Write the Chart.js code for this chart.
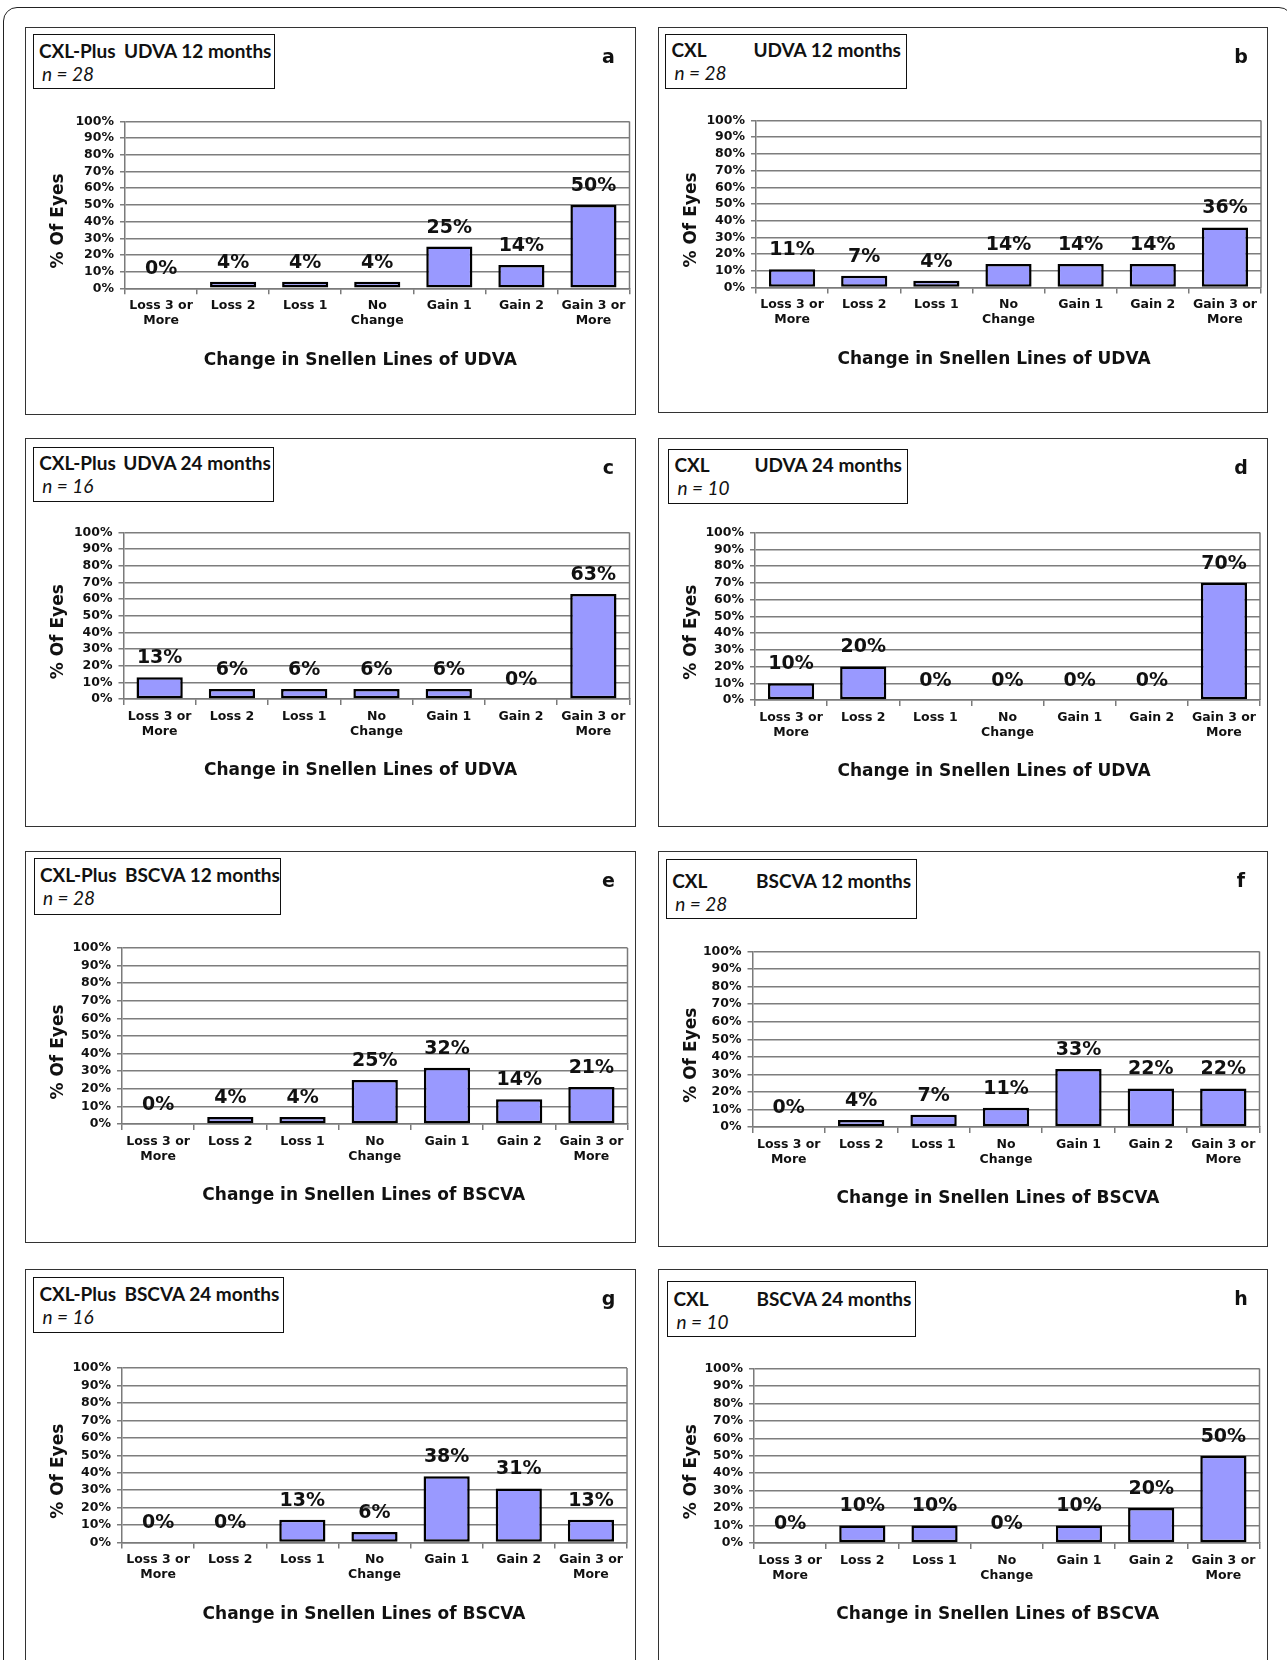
<!DOCTYPE html>
<html>
<head>
<meta charset="utf-8">
<title>Change in Snellen Lines – CXL-Plus vs CXL</title>
<script src="https://cdn.jsdelivr.net/npm/chart.js@4.4.1/dist/chart.umd.min.js"></script>
<style>
  html, body { margin: 0; padding: 0; background: #fff; }
  body { width: 1287px; height: 1660px; position: relative; overflow: hidden; }
  .frame { position: absolute; left: 3px; top: 7px; width: 1290px; height: 1700px;
           border: 1.5px solid #222; border-radius: 14px; box-sizing: border-box; }
  .panel { position: absolute; }
  .panel canvas { position: absolute; left: 0; top: 0; }
  .pborder { position: absolute; left: 0; top: 0; right: 0; bottom: 0;
             border: 1.6px solid #333; box-sizing: border-box; pointer-events: none; }
  .tbox { position: absolute; border: 1.6px solid #111; box-sizing: border-box; background: #fff;
          font-family: Lato, "Open Sans", sans-serif; color: #111; }
  .tline { position: absolute; white-space: pre; font-size: 19px; line-height: 22px; }
  .t1 { font-weight: 700; }
  .t2 { font-style: italic; font-weight: 400; }
  .letter { position: absolute; width: 30px; text-align: center; font-family: "DejaVu Sans", sans-serif;
            font-weight: 700; font-size: 19px; line-height: 22px; color: #111; }
</style>
</head>
<body>
<div class="frame"></div>
<div id="root"></div>
<script>
// ---- data ----
const categories = [["Loss 3 or", "More"], "Loss 2", "Loss 1", ["No", "Change"], "Gain 1", "Gain 2", ["Gain 3 or", "More"]];
const yTickLabels = ["0%", "10%", "20%", "30%", "40%", "50%", "60%", "70%", "80%", "90%", "100%"];
const yAxisTitle = "% Of Eyes";
const xTitleUdva = "Change in Snellen Lines of UDVA";
const xTitleBscva = "Change in Snellen Lines of BSCVA";

const udva12Plus  = [0, 4, 4, 4, 25, 14, 50];
const udva12Cxl   = [11, 7, 4, 14, 14, 14, 36];
const udva24Plus  = [13, 6, 6, 6, 6, 0, 63];
const udva24Cxl   = [10, 20, 0, 0, 0, 0, 70];
const bscva12Plus = [0, 4, 4, 25, 32, 14, 21];
const bscva12Cxl  = [0, 4, 7, 11, 33, 22, 22];
const bscva24Plus = [0, 0, 13, 6, 38, 31, 13];
const bscva24Cxl  = [0, 10, 10, 0, 10, 20, 50];

// ---- panel descriptions ----
const panels = [
  { letter: "a", group: "CXL-Plus", measure: "UDVA 12 months", n: "n = 28", values: udva12Plus, xTitle: xTitleUdva },
  { letter: "b", group: "CXL", measure: "UDVA 12 months", n: "n = 28", values: udva12Cxl, xTitle: xTitleUdva },
  { letter: "c", group: "CXL-Plus", measure: "UDVA 24 months", n: "n = 16", values: udva24Plus, xTitle: xTitleUdva },
  { letter: "d", group: "CXL", measure: "UDVA 24 months", n: "n = 10", values: udva24Cxl, xTitle: xTitleUdva },
  { letter: "e", group: "CXL-Plus", measure: "BSCVA 12 months", n: "n = 28", values: bscva12Plus, xTitle: xTitleBscva },
  { letter: "f", group: "CXL", measure: "BSCVA 12 months", n: "n = 28", values: bscva12Cxl, xTitle: xTitleBscva },
  { letter: "g", group: "CXL-Plus", measure: "BSCVA 24 months", n: "n = 16", values: bscva24Plus, xTitle: xTitleBscva },
  { letter: "h", group: "CXL", measure: "BSCVA 24 months", n: "n = 10", values: bscva24Cxl, xTitle: xTitleBscva }
];

// ---- page geometry: [left, top, right, bottom]; xs = horizontal shift of the x-axis title ----
const geometry = {
  a: { box: [25, 26.5, 635.5, 415],   plot: [125, 121, 629, 287.3],     tbox: [32.5, 34, 275, 89],       m: 92, dy: 0, xs: -17 },
  b: { box: [658, 26.5, 1268, 413],   plot: [756, 120, 1261, 286.5],    tbox: [665, 33.5, 907, 89.3],    m: 89, dy: 0, xs: -14.5 },
  c: { box: [25, 438, 635.5, 827],    plot: [123.5, 532.5, 629, 699],   tbox: [32.8, 446.6, 274, 501.7], m: 91, dy: 0, xs: -16 },
  d: { box: [658, 438, 1268, 827],    plot: [755, 532.5, 1260, 700],    tbox: [668, 448.8, 908, 503.8],  m: 87, dy: 0, xs: -13.5 },
  e: { box: [25, 851, 635.5, 1242.5], plot: [122, 948, 627, 1123.5],    tbox: [33.5, 858.3, 281, 915],   m: 92, dy: 0, xs: -11 },
  f: { box: [658, 851, 1268, 1247],   plot: [752.5, 951.5, 1259.5, 1127], tbox: [665.7, 859.4, 916.6, 918.7], m: 91, dy: 5, xs: -8 },
  g: { box: [25, 1269, 635.5, 1672],  plot: [122, 1368, 626.5, 1542.5], tbox: [33, 1277.3, 284, 1333.3], m: 92, dy: 0, xs: -10.5 },
  h: { box: [658, 1269, 1268, 1672],  plot: [754, 1368.5, 1259.5, 1543], tbox: [667, 1280.7, 916, 1336.7], m: 90, dy: 2, xs: -9 }
};

// ---- plugins ----
// value label above each bar
const barLabels = {
  id: "barLabels",
  afterDatasetsDraw(chart) {
    const ctx = chart.ctx;
    const ds = chart.data.datasets[0];
    const meta = chart.getDatasetMeta(0);
    ctx.save();
    ctx.font = 'bold 19px "DejaVu Sans"';
    ctx.fillStyle = "#111";
    ctx.textAlign = "center";
    ctx.textBaseline = "middle";
    meta.data.forEach((bar, i) => {
      ctx.fillText(ds.data[i] + "%", bar.x, bar.y - 19);
    });
    ctx.restore();
  }
};

// right edge of the plot area border
const plotFrame = {
  id: "plotFrame",
  beforeDatasetsDraw(chart) {
    const { ctx, chartArea: a } = chart;
    ctx.save();
    ctx.strokeStyle = "#7a7a7a";
    ctx.lineWidth = 1.5;
    ctx.beginPath();
    ctx.moveTo(a.right, a.top);
    ctx.lineTo(a.right, a.bottom);
    ctx.stroke();
    ctx.restore();
  }
};

// axis titles, placed relative to the plot area
const axisTitles = {
  id: "axisTitles",
  afterDraw(chart, args, opts) {
    const { ctx, chartArea: a } = chart;
    ctx.save();
    ctx.fillStyle = "#111";
    ctx.textAlign = "center";
    ctx.textBaseline = "middle";
    ctx.font = 'bold 17px "DejaVu Sans"';
    ctx.fillText(opts.x, (a.left + a.right) / 2 + opts.shift, a.bottom + 72);
    ctx.translate(34, (a.top + a.bottom) / 2 + 16);
    ctx.rotate(-Math.PI / 2);
    ctx.fillText(opts.y, 0, 0);
    ctx.restore();
  }
};

// ---- build ----
const root = document.getElementById("root");
const tickFont = { family: "DejaVu Sans", weight: "bold" };

panels.forEach(p => {
  const g = geometry[p.letter];
  const [bl, bt, br, bb] = g.box;
  const [pl, pt, pr, pb] = g.plot;
  const w = br - bl, h = bb - bt;

  const wrap = document.createElement("div");
  wrap.className = "panel";
  Object.assign(wrap.style, { left: bl + "px", top: bt + "px", width: w + "px", height: h + "px" });
  const canvas = document.createElement("canvas");
  canvas.width = Math.round(w);
  canvas.height = Math.round(h);
  canvas.style.width = Math.round(w) + "px";
  canvas.style.height = Math.round(h) + "px";
  wrap.appendChild(canvas);
  const border = document.createElement("div");
  border.className = "pborder";
  wrap.appendChild(border);
  root.appendChild(wrap);

  // caption box
  const [tl, tt, tr, tb] = g.tbox;
  const box = document.createElement("div");
  box.className = "tbox";
  Object.assign(box.style, { left: tl + "px", top: tt + "px", width: (tr - tl) + "px", height: (tb - tt) + "px" });
  const l1a = document.createElement("div");
  l1a.className = "tline t1"; l1a.textContent = p.group;
  Object.assign(l1a.style, { left: "5.5px", top: (4.5 + g.dy) + "px" });
  const l1b = document.createElement("div");
  l1b.className = "tline t1"; l1b.textContent = p.measure;
  Object.assign(l1b.style, { left: (g.m - 1.6) + "px", top: (4.5 + g.dy) + "px" });
  const l2 = document.createElement("div");
  l2.className = "tline t2"; l2.textContent = p.n;
  Object.assign(l2.style, { left: "8.5px", top: (27.5 + g.dy) + "px" });
  box.appendChild(l1a); box.appendChild(l1b); box.appendChild(l2);
  root.appendChild(box);

  const letter = document.createElement("div");
  letter.className = "letter";
  letter.textContent = p.letter;
  Object.assign(letter.style, { left: (br - 27 - 15) + "px", top: (bt + 18) + "px" });
  root.appendChild(letter);

  const Wy = pl - bl, Hx = bb - pb;
  new Chart(canvas, {
    type: "bar",
    data: {
      labels: categories,
      datasets: [{
        data: p.values,
        backgroundColor: "#9999ff",
        borderColor: "#000",
        borderWidth: 2.5,
        borderSkipped: false,
        categoryPercentage: 1,
        barPercentage: 0.64
      }]
    },
    options: {
      responsive: false,
      animation: false,
      events: [],
      layout: { padding: { left: 0, top: pt - bt, right: br - pr, bottom: 0 } },
      plugins: {
        legend: { display: false },
        tooltip: { enabled: false },
        axisTitles: { x: p.xTitle, y: yAxisTitle, shift: g.xs }
      },
      scales: {
        x: {
          grid: { display: true, drawOnChartArea: false, drawTicks: true, tickLength: 6, offset: true,
                  color: "#7a7a7a", lineWidth: 1.5 },
          border: { display: true, color: "#7a7a7a", width: 1.5 },
          ticks: { color: "#111", font: Object.assign({ size: 12.5, lineHeight: 1.2 }, tickFont),
                   padding: 4, maxRotation: 0, autoSkip: false },
          afterFit(s) { s.height = Hx; }
        },
        y: {
          min: 0, max: 100,
          grid: { color: "#7d7d7d", lineWidth: 1.5, drawTicks: true, tickLength: 5 },
          border: { display: true, color: "#7a7a7a", width: 1.5 },
          ticks: { stepSize: 10, autoSkip: false, callback: (v, i) => yTickLabels[i], color: "#111",
                   font: Object.assign({ size: 12.5, lineHeight: 1 }, tickFont), padding: 6 },
          afterFit(s) { s.width = Wy; }
        }
      }
    },
    plugins: [barLabels, plotFrame, axisTitles]
  });
});
</script>
</body>
</html>
